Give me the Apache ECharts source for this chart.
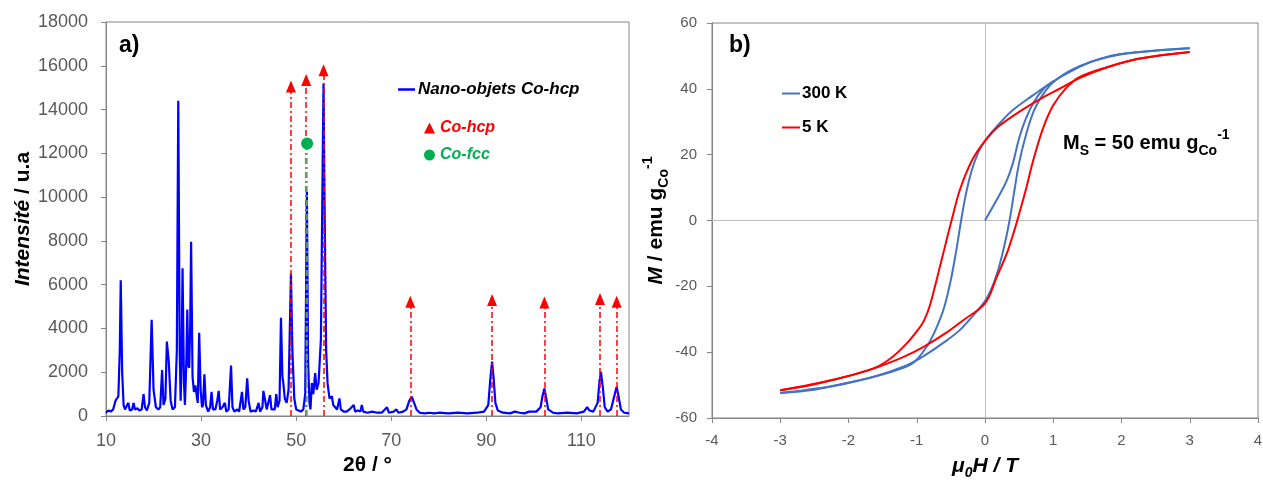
<!DOCTYPE html>
<html><head><meta charset="utf-8">
<script src="https://cdn.jsdelivr.net/npm/echarts@6/dist/echarts.min.js"></script>
<style>html,body{margin:0;padding:0;background:#fff}#c{width:1263px;height:481px}</style>
</head><body><div id="c"></div>
<script>
// ---------- (a) XRD pattern ----------
const twoTheta = [10.0,10.5,11.0,11.5,12.0,12.3,12.6,12.9,13.1,13.4,13.7,14.0,14.4,14.7,15.0,15.5,15.8,16.1,16.6,17.0,17.5,17.9,18.2,18.6,19.1,19.6,20.0,20.5,21.0,21.4,21.8,22.1,22.5,22.8,23.2,23.6,24.0,24.5,24.9,25.2,25.5,25.7,25.9,26.1,26.4,26.6,26.9,27.1,27.3,27.5,27.7,27.9,28.2,28.5,28.8,29.1,29.3,29.6,29.9,30.2,30.4,30.7,31.0,31.5,31.9,32.2,32.5,33.0,33.4,33.7,34.0,34.5,35.0,35.3,35.8,36.3,36.6,37.0,37.6,38.0,38.6,38.9,39.3,39.7,40.0,40.4,41.0,41.5,42.1,42.4,42.9,43.1,43.4,43.8,44.2,44.5,44.8,45.5,45.8,46.1,46.5,46.8,47.1,47.3,47.6,48.0,48.4,48.9,49.2,49.6,50.0,50.5,51.0,51.5,51.9,52.25,52.5,52.8,53.0,53.3,53.6,54.0,54.3,54.7,55.2,55.5,55.75,56.0,56.3,56.6,57.0,57.3,57.5,57.8,58.2,58.6,59.1,59.4,60.0,60.6,61.2,61.6,62.1,62.4,63.0,63.5,63.8,64.1,65.0,66.0,67.0,68.0,69.1,69.5,70.5,71.1,71.5,72.5,73.2,73.8,74.3,74.8,75.3,76.0,77.0,78.0,79.0,80.0,82.0,84.0,86.0,88.0,89.5,90.4,90.8,91.2,91.5,91.9,92.4,93.5,95.0,96.0,97.0,98.0,99.0,100.5,101.4,101.8,102.2,102.6,103.0,104.0,105.0,107.0,109.0,110.5,111.2,111.7,112.5,113.4,113.8,114.1,114.5,114.9,115.5,116.2,116.9,117.4,117.8,118.3,119.0,120.0];
const intensity = [150,250,200,300,700,800,900,3000,6200,2000,500,300,250,600,250,300,600,300,350,250,300,1000,400,250,600,4400,1200,400,300,400,2100,500,800,3400,2500,700,300,400,3000,14400,3000,700,2500,6750,1500,500,2500,4870,2300,2200,4000,7960,1800,1100,1400,900,600,3800,1200,400,500,1900,500,200,400,1100,300,300,700,1150,300,400,600,200,300,2300,400,200,300,200,1100,300,400,1720,700,200,250,200,600,200,400,1150,800,300,300,950,300,300,1000,400,700,4490,1800,1500,800,600,1200,6500,3000,800,300,250,200,300,1000,10240,2500,600,300,1500,1000,1960,1200,1500,3500,10000,15190,9000,3000,1500,800,800,900,500,400,300,800,300,200,200,300,250,500,200,250,200,500,200,150,200,150,150,400,150,200,300,150,200,300,700,880,600,300,150,120,150,120,150,120,150,120,150,200,500,1600,2480,1800,600,250,150,120,200,150,120,200,200,400,900,1260,800,300,150,120,150,120,200,400,250,200,600,1600,2020,1300,400,200,300,900,1340,900,300,150,120];
const hcpPos  = [48.9, 52.1, 55.75, 74.0, 91.2, 102.2, 113.9, 117.4];
const hcpMark = [15050, 15350, 15800, 5220, 5300, 5180, 5340, 5220];
const fccPos  = [52.3];
const fccMark = [12450];
const xTicksA = [10, 30, 50, 70, 90, 110];

// ---------- (b) hysteresis loops ----------
const h300Down = [3.0,2.5,2.0,1.6,1.3,1.0,0.7,0.4,0.17,0,-0.1,-0.2,-0.28,-0.35,-0.42,-0.5,-0.6,-0.72,-0.85,-1.05,-1.3,-1.65,-2.2,-2.6,-3.0];
const m300Down = [52.3,51.6,50.5,48.5,45.8,42.3,38.0,33.4,28.5,24.2,20.6,14.8,8.0,0,-9,-18,-26.5,-33,-38.2,-43.2,-45.5,-47.6,-50.2,-51.4,-52.4];
const h300Up   = [-3.0,-2.5,-2.2,-1.64,-1.15,-0.9,-0.56,-0.37,-0.2,0,0.1,0.2,0.28,0.36,0.43,0.5,0.6,0.72,0.85,1.0,1.29,1.78,2.27,3.0];
const m300Up   = [-52.4,-51.4,-50.1,-47.5,-44.0,-41.2,-36.4,-33.3,-29.5,-24.5,-20.5,-14.5,-8,0,9,17.5,26,33.5,38.3,42.0,46.0,49.7,51.2,52.3];
const h300Virgin = [0,0.17,0.32,0.41,0.5,0.6,0.71,0.85,1.0];
const m300Virgin = [0,6.2,12.2,17.5,25,31,35.8,39.8,42.3];
const h5Down = [3.0,2.27,1.78,1.4,1.1,0.8,0.5,0.2,0,-0.19,-0.37,-0.49,-0.6,-0.7,-0.81,-0.88,-0.95,-1.15,-1.39,-1.64,-2.22,-2.6,-3.0];
const m5Down = [51.2,49.2,46.5,43.4,40.1,36.8,33.0,28.6,24.2,18.3,9.2,0,-9,-17.3,-26,-29.8,-32.3,-37.4,-42,-45.0,-48.4,-50.2,-51.6];
const h5Up   = [-3.0,-2.22,-1.64,-1.2,-0.9,-0.56,-0.32,0,0.17,0.32,0.43,0.5,0.6,0.71,0.85,1.0,1.2,1.39,1.78,2.27,3.0];
const m5Up   = [-51.6,-48.4,-45.0,-41.5,-38.4,-34,-30.3,-25.2,-17.3,-10,-3,2,9.5,18.5,28,35,40.5,43.6,46.5,49.2,51.2];

const FONT = 'Liberation Sans';
const AXIS = '#868686';
const LABEL = '#595959';
const BLUE300 = '#4472C4';
const RED5 = '#FF0000';
const zip = (a, b) => a.map((v, i) => [v, b[i]]);

const chart = echarts.init(document.getElementById('c'), null, {renderer: 'canvas'});

const subStyle = {fontFamily: FONT, fontWeight: 'bold', fontSize: 14, lineHeight: 14, verticalAlign: 'bottom', color: '#000'};
const supStyle = {fontFamily: FONT, fontWeight: 'bold', fontSize: 14, lineHeight: 14, verticalAlign: 'top', color: '#000'};

function branch(name, h, m, color, z, extra) {
  return Object.assign({
    name: name, type: 'line', xAxisIndex: 1, yAxisIndex: 1,
    data: zip(h, m), symbol: 'none', smooth: 0.35,
    lineStyle: {color: color, width: 2}, itemStyle: {color: color}, z: z
  }, extra || {});
}

chart.setOption({
  animation: false,
  backgroundColor: '#fff',
  textStyle: {fontFamily: FONT},
  grid: [
    {left: 106, top: 22, width: 523, height: 394, show: true, borderColor: AXIS, borderWidth: 1, backgroundColor: 'transparent', outerBoundsMode: 'none', containLabel: false},
    {left: 712, top: 23, width: 546, height: 395, show: true, borderColor: AXIS, borderWidth: 1, backgroundColor: 'transparent', outerBoundsMode: 'none', containLabel: false}
  ],
  xAxis: [
    {
      type: 'value', gridIndex: 0, min: 10, max: 120,
      axisLine: {onZero: false, lineStyle: {color: AXIS}},
      axisTick: {customValues: xTicksA, length: 5, lineStyle: {color: AXIS}},
      axisLabel: {customValues: xTicksA, fontSize: 18, color: LABEL, margin: 16, fontFamily: FONT},
      splitLine: {show: false},
      name: '2θ / °', nameLocation: 'middle', nameGap: 36,
      nameTextStyle: {fontSize: 21, fontWeight: 'bold', color: '#000', fontFamily: FONT}
    },
    {
      type: 'value', gridIndex: 1, min: -4, max: 4, interval: 1,
      axisLine: {onZero: false, lineStyle: {color: AXIS}},
      axisTick: {length: 5, lineStyle: {color: AXIS}},
      axisLabel: {fontSize: 15, color: LABEL, margin: 15, fontFamily: FONT},
      splitLine: {show: false},
      name: '{it|μ}{sub|0}{it|H / T}', nameLocation: 'middle', nameGap: 34,
      nameTextStyle: {
        rich: {
          it: {fontFamily: FONT, fontStyle: 'italic', fontWeight: 'bold', fontSize: 21, lineHeight: 28, color: '#000'},
          sub: Object.assign({}, subStyle, {fontStyle: 'italic'})
        }
      }
    }
  ],
  yAxis: [
    {
      type: 'value', gridIndex: 0, min: 0, max: 18000, interval: 2000,
      axisLine: {show: true, onZero: false, lineStyle: {color: AXIS}},
      axisTick: {show: true, length: 5, lineStyle: {color: AXIS}},
      axisLabel: {fontSize: 18, color: LABEL, margin: 18, fontFamily: FONT, formatter: v => String(v)},
      splitLine: {show: false},
      name: '{it|Intensité}{n| / u.a}', nameLocation: 'middle', nameRotate: 90, nameGap: 63,
      nameTextStyle: {
        rich: {
          it: {fontFamily: FONT, fontStyle: 'italic', fontWeight: 'bold', fontSize: 21, color: '#000'},
          n: {fontFamily: FONT, fontWeight: 'bold', fontSize: 21, color: '#000'}
        }
      }
    },
    {
      type: 'value', gridIndex: 1, min: -60, max: 60, interval: 20,
      axisLine: {show: true, onZero: false, lineStyle: {color: AXIS}},
      axisTick: {show: true, length: 5, lineStyle: {color: AXIS}},
      axisLabel: {fontSize: 15, color: LABEL, margin: 15, fontFamily: FONT},
      splitLine: {show: false},
      name: '{it|M}{n| / emu g}{sub|Co}{sup|-1}', nameLocation: 'middle', nameRotate: 90, nameGap: 36,
      nameTextStyle: {
        rich: {
          it: {fontFamily: FONT, fontStyle: 'italic', fontWeight: 'bold', fontSize: 21, lineHeight: 30, color: '#000'},
          n: {fontFamily: FONT, fontWeight: 'bold', fontSize: 21, lineHeight: 30, color: '#000'},
          sub: subStyle,
          sup: supStyle
        }
      }
    }
  ],
  legend: [
    {
      left: 393, top: 76, icon: 'rect', itemWidth: 17, itemHeight: 2.5,
      data: ['Nano-objets Co-hcp'],
      textStyle: {fontFamily: FONT, fontStyle: 'italic', fontWeight: 'bold', fontSize: 17, color: '#000', padding: [0, 0, 0, -2]}
    },
    {
      left: 419, top: 115, orient: 'vertical', itemWidth: 11, itemHeight: 11, itemGap: 11,
      data: [
        {name: 'Co-hcp', textStyle: {color: '#FF0000'}},
        {name: 'Co-fcc', textStyle: {color: '#00B050'}}
      ],
      textStyle: {fontFamily: FONT, fontStyle: 'italic', fontWeight: 'bold', fontSize: 16}
    },
    {
      left: 777, top: 80, orient: 'vertical', icon: 'rect', itemWidth: 18, itemHeight: 2, itemGap: 17,
      data: ['300 K', '5 K'],
      textStyle: {fontFamily: FONT, fontWeight: 'bold', fontSize: 17, color: '#000', padding: [0, 0, 0, -3]}
    }
  ],
  graphic: [
    {type: 'text', left: 119, top: 34, style: {text: 'a)', fontFamily: FONT, fontWeight: 'bold', fontSize: 23, fill: '#000'}},
    {type: 'text', left: 729, top: 34, style: {text: 'b)', fontFamily: FONT, fontWeight: 'bold', fontSize: 23, fill: '#000'}},
    {type: 'text', left: 1063, top: 128, style: {
      text: '{b|M}{sub|S}{b| = 50 emu g}{sub|Co}{sup|-1}',
      rich: {
        b: {fontFamily: FONT, fontWeight: 'bold', fontSize: 20, lineHeight: 30, fill: '#000'},
        sub: {fontFamily: FONT, fontWeight: 'bold', fontSize: 14, lineHeight: 14, verticalAlign: 'bottom', fill: '#000'},
        sup: {fontFamily: FONT, fontWeight: 'bold', fontSize: 14, lineHeight: 14, verticalAlign: 'top', fill: '#000'}
      }
    }}
  ],
  series: [
    {
      name: 'Nano-objets Co-hcp', type: 'line', xAxisIndex: 0, yAxisIndex: 0,
      data: zip(twoTheta, intensity), symbol: 'none', showSymbol: false,
      lineStyle: {color: '#0000FF', width: 2.2}, itemStyle: {color: '#0000FF'}, z: 2
    },
    {
      name: 'Co-hcp', type: 'scatter', xAxisIndex: 0, yAxisIndex: 0,
      data: zip(hcpPos, hcpMark), symbol: 'triangle', symbolSize: [10, 12],
      itemStyle: {color: '#FF0000', opacity: 1}, z: 4,
      markLine: {
        silent: true, symbol: ['none', 'none'], label: {show: false}, z: 3,
        lineStyle: {color: '#FF0000', width: 1.5, type: [6, 3, 2, 3], opacity: 1},
        emphasis: {disabled: true},
        data: hcpPos.map((x, i) => [{coord: [x, 0]}, {coord: [x, hcpMark[i]]}])
      }
    },
    {
      name: 'Co-fcc', type: 'scatter', xAxisIndex: 0, yAxisIndex: 0,
      data: zip(fccPos, fccMark), symbol: 'circle', symbolSize: 12,
      itemStyle: {color: '#00B050', opacity: 1}, z: 4,
      markLine: {
        silent: true, symbol: ['none', 'none'], label: {show: false}, z: 3,
        lineStyle: {color: '#3CC47C', width: 1.5, type: [6, 3, 2, 3], opacity: 1},
        emphasis: {disabled: true},
        data: fccPos.map((x, i) => [{coord: [x, 0]}, {coord: [x, fccMark[i]]}])
      }
    },
    branch('300 K', h300Down, m300Down, BLUE300, 3, {
      markLine: {
        silent: true, symbol: ['none', 'none'], label: {show: false}, z: 1,
        lineStyle: {color: '#BFBFBF', width: 1, type: 'solid'},
        emphasis: {disabled: true},
        data: [{xAxis: 0}, {yAxis: 0}]
      }
    }),
    branch('300 K', h300Up, m300Up, BLUE300, 3),
    branch('300 K', h300Virgin, m300Virgin, BLUE300, 3),
    branch('5 K', h5Down, m5Down, RED5, 4),
    branch('5 K', h5Up, m5Up, RED5, 4)
  ]
});
</script>
</body></html>
